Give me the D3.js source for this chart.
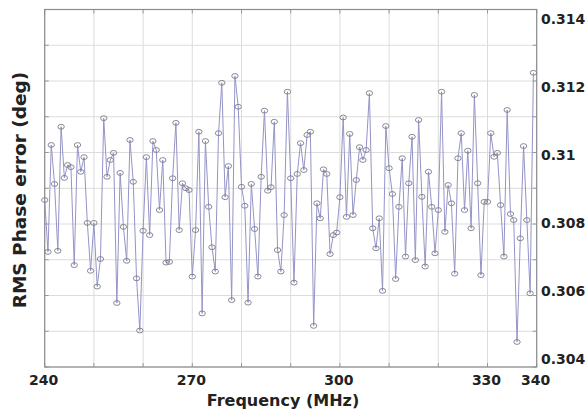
<!DOCTYPE html>
<html>
<head>
<meta charset="utf-8">
<script src="https://cdn.jsdelivr.net/npm/d3@7"></script>
<style>
  body { margin: 0; background: #fff; }
  text { font-family: "DejaVu Sans", sans-serif; font-weight: bold; fill: #222; }
</style>
</head>
<body>
<div id="chart"></div>
<script>
// RMS phase error vs frequency

var width = 587;
var height = 415;
var plotLeft = 44.7, plotTop = 9.5, plotRight = 536.7, plotBottom = 367;

// 150 samples, 2/3 MHz apart starting at 240 MHz
var freqStart = 240;
var freqStep = 2 / 3;
var rmsError = [
  0.30867, 0.30722, 0.31021, 0.30912, 0.30725, 0.31072, 0.30929, 0.30965, 0.30959, 0.30685,
  0.31021, 0.30946, 0.30987, 0.30803, 0.30669, 0.30803, 0.30625, 0.30702, 0.31096, 0.30932,
  0.30979, 0.30999, 0.30579, 0.30943, 0.30792, 0.30697, 0.31035, 0.30918, 0.30648, 0.30502,
  0.30781, 0.30987, 0.30769, 0.31032, 0.31007, 0.30839, 0.30979, 0.30692, 0.30694, 0.30928,
  0.31083, 0.30783, 0.30914, 0.30900, 0.30895, 0.30653, 0.30783, 0.31058, 0.30550, 0.31032,
  0.30848, 0.30735, 0.30667, 0.31054, 0.31195, 0.30875, 0.30962, 0.30587, 0.31214, 0.31128,
  0.30904, 0.30851, 0.30580, 0.30912, 0.30786, 0.30653, 0.30932, 0.31117, 0.30893, 0.30903,
  0.31086, 0.30727, 0.30667, 0.30825, 0.31170, 0.30928, 0.30636, 0.30940, 0.31026, 0.30951,
  0.31049, 0.31058, 0.30515, 0.30858, 0.30816, 0.30953, 0.30940, 0.30716, 0.30769, 0.30776,
  0.30875, 0.31098, 0.30820, 0.31052, 0.30825, 0.30923, 0.31015, 0.30979, 0.31007, 0.31166,
  0.30788, 0.30732, 0.30816, 0.30613, 0.31074, 0.30956, 0.30884, 0.30646, 0.30848, 0.30984,
  0.30709, 0.30914, 0.31044, 0.30699, 0.31091, 0.30876, 0.30681, 0.30946, 0.30848, 0.30718,
  0.30839, 0.31170, 0.30778, 0.30909, 0.30858, 0.30661, 0.30984, 0.31054, 0.30839, 0.31005,
  0.30788, 0.31161, 0.30914, 0.30657, 0.30862, 0.30862, 0.31054, 0.30988, 0.30999, 0.30853,
  0.30709, 0.31119, 0.30828, 0.30811, 0.30470, 0.30760, 0.31018, 0.30811, 0.30606, 0.31223
];

var xTickLabels = [240, 270, 300, 330, 340];
var yTickLabels = [0.304, 0.306, 0.308, 0.31, 0.312, 0.314];

var data = rmsError.map(function(v, i) { return { f: freqStart + i * freqStep, v: v }; });

var svg = d3.select("#chart")
            .append("svg")
            .attr("width", width)
            .attr("height", height);

var x = d3.scaleLinear().domain([240, 340]).range([plotLeft, plotRight]);
var y = d3.scaleLinear().domain([0.304, 0.314]).range([plotBottom, plotTop]);
// tick labels in the picture sit on a slightly squeezed range
var yLab = d3.scaleLinear().domain([0.304, 0.314]).range([358.5, 18.5]);

// grid
var grid = svg.append("g").attr("stroke", "#dcdcdc").attr("stroke-width", 1);
grid.selectAll(".vx").data(x.ticks(10)).enter().append("line")
    .attr("x1", function(d) { return x(d); }).attr("x2", function(d) { return x(d); })
    .attr("y1", plotTop).attr("y2", plotBottom);
grid.selectAll(".hy").data(y.ticks(10)).enter().append("line")
    .attr("x1", plotLeft).attr("x2", plotRight)
    .attr("y1", function(d) { return y(d); }).attr("y2", function(d) { return y(d); });

// inward ticks on the frame
var ticks = svg.append("g").attr("stroke", "#999").attr("stroke-width", 1);
x.ticks(10).forEach(function(d) {
    ticks.append("line").attr("x1", x(d)).attr("x2", x(d)).attr("y1", plotBottom).attr("y2", plotBottom - 4);
    ticks.append("line").attr("x1", x(d)).attr("x2", x(d)).attr("y1", plotTop).attr("y2", plotTop + 4);
});
y.ticks(10).forEach(function(d) {
    ticks.append("line").attr("x1", plotLeft).attr("x2", plotLeft + 4).attr("y1", y(d)).attr("y2", y(d));
    ticks.append("line").attr("x1", plotRight).attr("x2", plotRight - 4).attr("y1", y(d)).attr("y2", y(d));
});

// frame
svg.append("rect")
   .attr("x", plotLeft).attr("y", plotTop)
   .attr("width", plotRight - plotLeft).attr("height", plotBottom - plotTop)
   .attr("fill", "none").attr("stroke", "#8c8c8c").attr("stroke-width", 1.2);

// series line
var line = d3.line()
             .x(function(d) { return x(d.f); })
             .y(function(d) { return y(d.v); });

svg.append("path")
   .datum(data)
   .attr("d", line)
   .attr("fill", "none")
   .attr("stroke", "#9494c8")
   .attr("stroke-width", 1);

// markers
svg.append("g")
   .selectAll("ellipse")
   .data(data)
   .enter()
   .append("ellipse")
   .attr("cx", function(d) { return x(d.f); })
   .attr("cy", function(d) { return y(d.v); })
   .attr("rx", 3.2)
   .attr("ry", 2.4)
   .attr("fill", "none")
   .attr("stroke", "#7a7a8a")
   .attr("stroke-width", 0.9);

// x tick labels
svg.selectAll(".xl").data(xTickLabels).enter().append("text")
   .attr("x", function(d) { return x(d) - 1; })
   .attr("y", 385)
   .attr("text-anchor", "middle")
   .attr("font-size", 14)
   .text(function(d) { return d; });

// right y tick labels
svg.selectAll(".yl").data(yTickLabels).enter().append("text")
   .attr("x", 541)
   .attr("y", function(d) { return yLab(d) + 5; })
   .attr("font-size", 14)
   .text(function(d) { return String(+d.toFixed(3)); });

// axis titles
svg.append("text")
   .attr("x", 283)
   .attr("y", 406)
   .attr("text-anchor", "middle")
   .attr("font-size", 16)
   .text("Frequency (MHz)");

svg.append("text")
   .attr("transform", "translate(26,190) rotate(-90)")
   .attr("text-anchor", "middle")
   .attr("font-size", 18.5)
   .text("RMS Phase error (deg)");
</script>
</body>
</html>
